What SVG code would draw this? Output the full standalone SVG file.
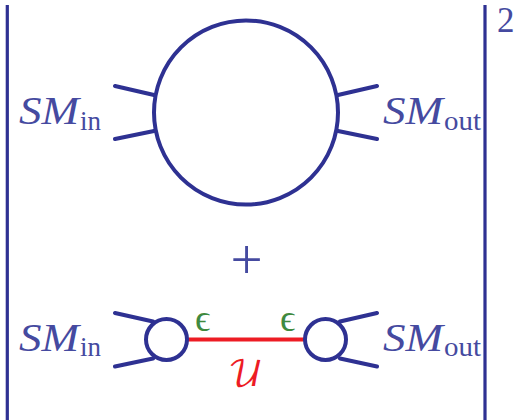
<svg xmlns="http://www.w3.org/2000/svg" width="518" height="420" viewBox="0 0 518 420">
<style>
.l{fill:none;stroke:#2e3192;stroke-width:4;stroke-linecap:round}
.b{fill:none;stroke:#2e3192;stroke-width:3.200}
.t{fill:#454aa0;font-family:"Liberation Serif",serif}
.sm{font-size:41px;font-style:italic}
.sub{font-size:27px}
.e{fill:#3f8a3f;font-family:"Liberation Serif",serif;font-size:38px}
</style>
<rect width="518" height="420" fill="#fff"/>
<g id="connectors">
<path class="b" d="M7.300 5V420M485 5V420"/>
<path class="l" d="M115 86L154 95M115 139L154 131M338 95L377 86M338 131L377 139"/>
<path class="l" d="M115 313L153 321.500M115 366.500L153 358.500M340 321.500L377 313M340 358.500L377 366.500"/>
<path d="M187 339.500H305" fill="none" stroke="#ed1c24" stroke-width="4"/>
</g>
<g id="big-loop"><circle class="l" cx="246" cy="112.500" r="92"/></g>
<g id="small-loop-left"><circle class="l" cx="166.500" cy="339.500" r="20.500"/></g>
<g id="small-loop-right"><circle class="l" cx="325.500" cy="339.500" r="20.500"/></g>
<g id="label-in-top"><text class="t sm" x="19" y="124" textLength="60" lengthAdjust="spacingAndGlyphs">SM</text><text class="t sub" x="80" y="129.500">in</text></g>
<g id="label-out-top"><text class="t sm" x="383" y="124" textLength="60" lengthAdjust="spacingAndGlyphs">SM</text><text class="t sub" x="444" y="129.500" textLength="37" lengthAdjust="spacingAndGlyphs">out</text></g>
<g id="label-in-bottom"><text class="t sm" x="19" y="351" textLength="60" lengthAdjust="spacingAndGlyphs">SM</text><text class="t sub" x="80" y="356">in</text></g>
<g id="label-out-bottom"><text class="t sm" x="383" y="351" textLength="60" lengthAdjust="spacingAndGlyphs">SM</text><text class="t sub" x="444" y="356" textLength="37" lengthAdjust="spacingAndGlyphs">out</text></g>
<g id="power"><text class="t" x="497" y="32" font-size="35">2</text></g>
<g id="plus"><text class="t" x="246.500" y="279" font-size="57" text-anchor="middle">+</text></g>
<g id="eps-left"><text class="e" x="195" y="331">ϵ</text></g>
<g id="eps-right"><text class="e" x="280" y="331">ϵ</text></g>
<g id="u-label"><text x="245.500" y="386" font-size="36" fill="#ed1c24" text-anchor="middle" font-family="'DejaVu Math TeX Gyre','DejaVu Sans',serif">𝒰</text></g>
</svg>
